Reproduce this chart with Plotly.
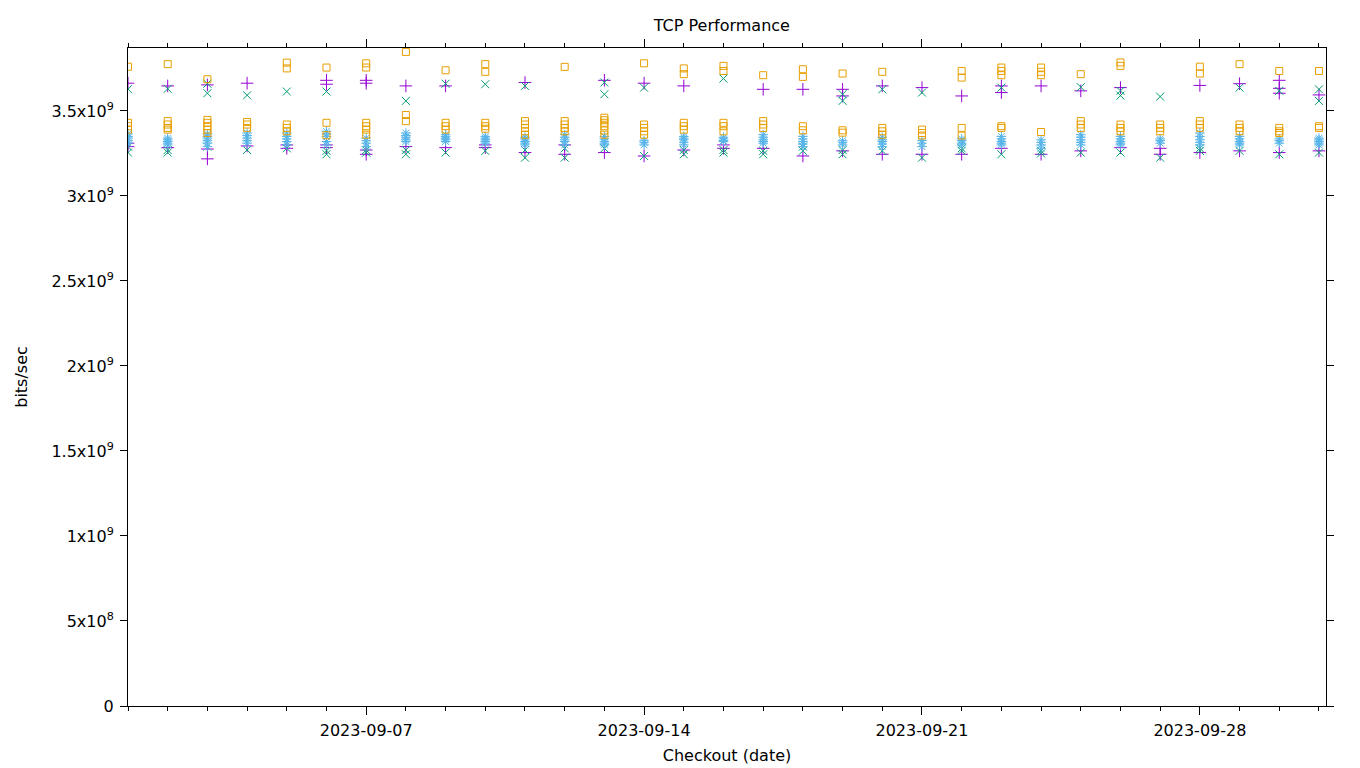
import plotly.graph_objects as go
import pandas as pd

# checkout dates, one column of points per day
days = pd.date_range("2023-09-01", "2023-10-01", freq="D")

# throughput per day, in units of 1e9 bits/sec
purple_plus = [
    [3.663, 3.31, 3.29], [3.647, 3.284], [3.653, 3.276, 3.218], [3.663, 3.294], [3.28, 3.30],
    [3.68, 3.657, 3.30, 3.284], [3.68, 3.663, 3.27, 3.245], [3.647, 3.29], [3.647, 3.284], [3.284, 3.30],
    [3.667, 3.255], [3.30, 3.245], [3.68, 3.255], [3.663, 3.235], [3.647, 3.27],
    [3.28, 3.30], [3.627, 3.28], [3.627, 3.235], [3.627, 3.588, 3.265], [3.647, 3.245],
    [3.637, 3.245], [3.588, 3.245], [3.647, 3.608, 3.28], [3.647, 3.245], [3.618, 3.265],
    [3.637, 3.284], [3.28, 3.245], [3.65, 3.255], [3.66, 3.265], [3.68, 3.633, 3.604, 3.255],
    [3.594, 3.265],
]
green_x = [
    [3.628, 3.29, 3.255], [3.63, 3.27, 3.255], [3.66, 3.604, 3.29], [3.592, 3.27], [3.614, 3.28],
    [3.614, 3.265, 3.245], [3.27, 3.255], [3.559, 3.27, 3.245], [3.66, 3.255], [3.657, 3.265],
    [3.647, 3.27, 3.225], [3.28, 3.225], [3.667, 3.598, 3.28], [3.637, 3.235], [3.245, 3.27],
    [3.69, 3.27, 3.255], [3.265, 3.245], [3.29, 3.265], [3.598, 3.559, 3.245, 3.27], [3.627, 3.265],
    [3.608, 3.225], [3.265, 3.28], [3.637, 3.245], [3.265, 3.25], [3.64, 3.255],
    [3.618, 3.59, 3.255], [3.584, 3.225], [3.265, 3.28], [3.637, 3.265], [3.618, 3.245],
    [3.627, 3.559, 3.255],
]
blue_star = [
    [3.365, 3.35, 3.34, 3.325, 3.31], [3.34, 3.33, 3.32, 3.31, 3.30], [3.365, 3.35, 3.34, 3.325, 3.31, 3.29],
    [3.37, 3.355, 3.34, 3.325, 3.31], [3.37, 3.35, 3.335, 3.32, 3.30],
    [3.38, 3.365, 3.35, 3.32, 3.30], [3.34, 3.325, 3.31, 3.29], [3.37, 3.355, 3.345, 3.33, 3.32],
    [3.36, 3.35, 3.34, 3.33, 3.32], [3.35, 3.34, 3.33, 3.32, 3.31],
    [3.345, 3.335, 3.32, 3.31, 3.30], [3.36, 3.345, 3.33, 3.32, 3.30], [3.35, 3.335, 3.32, 3.31, 3.30],
    [3.325, 3.315, 3.30], [3.35, 3.34, 3.33, 3.315, 3.30],
    [3.345, 3.335, 3.325, 3.32], [3.36, 3.345, 3.33, 3.32, 3.31], [3.35, 3.335, 3.32, 3.305, 3.29],
    [3.325, 3.315, 3.30], [3.345, 3.33, 3.32, 3.305, 3.29],
    [3.325, 3.31, 3.29], [3.335, 3.325, 3.31, 3.30], [3.35, 3.335, 3.32, 3.31, 3.30],
    [3.33, 3.315, 3.30, 3.28], [3.36, 3.345, 3.33, 3.315, 3.30],
    [3.35, 3.335, 3.32, 3.31, 3.30], [3.335, 3.325, 3.31], [3.37, 3.35, 3.33, 3.315, 3.30],
    [3.35, 3.335, 3.32, 3.31, 3.30], [3.335, 3.325, 3.31], [3.34, 3.33, 3.32, 3.31, 3.30],
]
orange_sq = [
    [3.76, 3.43, 3.41, 3.39], [3.775, 3.44, 3.42, 3.40, 3.39], [3.686, 3.447, 3.43, 3.41, 3.39, 3.37],
    [3.435, 3.42, 3.40], [3.784, 3.75, 3.42, 3.40, 3.38],
    [3.755, 3.43, 3.357], [3.78, 3.755, 3.43, 3.41, 3.39, 3.36], [3.847, 3.476, 3.44],
    [3.739, 3.43, 3.41, 3.39], [3.775, 3.73, 3.43, 3.41, 3.395],
    [3.44, 3.42, 3.40, 3.38, 3.36], [3.759, 3.44, 3.42, 3.40, 3.38], [3.46, 3.445, 3.43, 3.41, 3.385, 3.36],
    [3.78, 3.42, 3.40, 3.38, 3.36], [3.75, 3.716, 3.43, 3.41, 3.39],
    [3.765, 3.735, 3.43, 3.41, 3.38], [3.71, 3.44, 3.42, 3.40], [3.745, 3.70, 3.41, 3.386],
    [3.72, 3.386, 3.372], [3.73, 3.40, 3.38, 3.36],
    [3.39, 3.37, 3.355], [3.735, 3.696, 3.40, 3.355], [3.755, 3.735, 3.71, 3.41, 3.40],
    [3.755, 3.73, 3.71, 3.376], [3.716, 3.44, 3.42, 3.40],
    [3.785, 3.765, 3.42, 3.40, 3.38], [3.42, 3.40, 3.38], [3.76, 3.72, 3.44, 3.42, 3.40],
    [3.775, 3.42, 3.40, 3.38], [3.735, 3.40, 3.38, 3.37], [3.735, 3.41, 3.40],
]

ytick_vals = [0, 0.5e9, 1e9, 1.5e9, 2e9, 2.5e9, 3e9, 3.5e9]
ytick_text = ["0", "5x10<sup>8</sup>", "1x10<sup>9</sup>", "1.5x10<sup>9</sup>", "2x10<sup>9</sup>",
              "2.5x10<sup>9</sup>", "3x10<sup>9</sup>", "3.5x10<sup>9</sup>"]


def flatten(per_day):
    xs, ys = [], []
    for d, vals in zip(days, per_day):
        for v in vals:
            xs.append(d)
            ys.append(v * 1e9)
    return xs, ys


fig = go.Figure()
for per_day, color, symbol, size in [
    (purple_plus, "#9400d3", "cross-thin-open", 9),
    (green_x, "#009e73", "x-thin-open", 8),
    (blue_star, "#56b4e9", "asterisk-open", 8),
    (orange_sq, "#e69f00", "square-open", 7),
]:
    xs, ys = flatten(per_day)
    fig.add_trace(go.Scatter(x=xs, y=ys, mode="markers",
                             marker=dict(symbol=symbol, size=size, color=color,
                                         line=dict(width=1, color=color))))

# the page body adds 8px around the figure, so size it to fit the window
fig.update_layout(
    width=1352, height=760,
    margin=dict(l=120, r=34, t=40, b=62),
    plot_bgcolor="white", paper_bgcolor="white",
    showlegend=False,
    font=dict(family="DejaVu Sans", size=16, color="black"),
    title=dict(text="TCP Performance", x=0.528, xanchor="center",
               yref="container", y=1 - 17 / 760, yanchor="middle",
               font=dict(size=16)),
)
fig.update_xaxes(
    title=dict(text="Checkout (date)", standoff=10, font=dict(size=16)),
    automargin=False,
    type="date", range=["2023-09-01", "2023-10-01 04:15"],
    tick0="2023-09-07", dtick=7 * 86400000, tickformat="%Y-%m-%d",
    ticks="outside", ticklen=8, tickcolor="black", ticklabelstandoff=2,
    minor=dict(dtick=86400000, ticks="outside", ticklen=4, tickcolor="black"),
    showline=True, linecolor="black", linewidth=1, mirror="ticks",
    showgrid=False, zeroline=False,
)
fig.update_yaxes(
    title=dict(text="bits/sec", standoff=19, font=dict(size=16)),
    automargin=False,
    range=[0, 3.87e9], tickvals=ytick_vals, ticktext=ytick_text,
    ticks="outside", ticklen=7, tickcolor="black", ticklabelstandoff=3,
    showline=True, linecolor="black", linewidth=1, mirror="ticks",
    showgrid=False, zeroline=False,
)

fig.write_html("out.html")
